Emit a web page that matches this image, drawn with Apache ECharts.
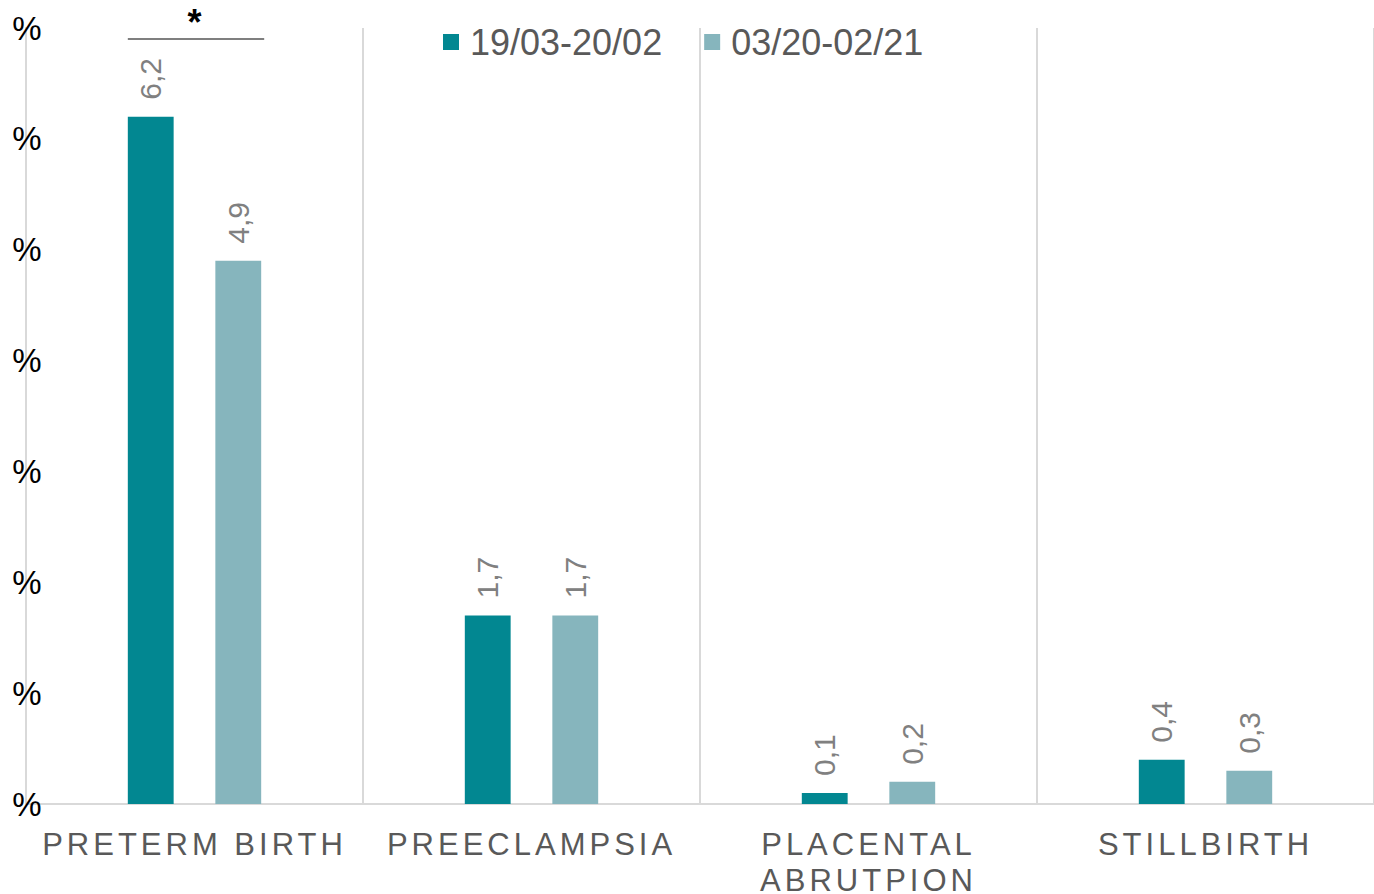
<!DOCTYPE html>
<html>
<head>
<meta charset="utf-8">
<script src="https://cdn.jsdelivr.net/npm/echarts@6/dist/echarts.min.js"></script>
<style>
html,body{margin:0;padding:0;background:#fff;}
#chart{width:1374px;height:894px;}
#chart text[style*="31px"]{letter-spacing:4px;}
</style>
</head>
<body>
<div id="chart"></div>
<script>
const categories = ['PRETERM BIRTH', 'PREECLAMPSIA', 'PLACENTAL\nABRUTPION', 'STILLBIRTH'];
const seriesNames = ['19/03-20/02', '03/20-02/21'];
const period1 = [6.2, 1.7, 0.1, 0.4];
const period2 = [4.9, 1.7, 0.2, 0.3];
const yTicks = [0, 1, 2, 3, 4, 5, 6, 7];
const sigCategory = 0;
const sigLevel = 6.9;
const sigMark = '*';

const BAR_W = 0.136, BAR_GAP = 0.91;
const chart = echarts.init(document.getElementById('chart'), null, {renderer: 'svg'});
const FONT = '"Liberation Sans", Arial, sans-serif';

const labelCfg = {
  show: true, position: 'top', rotate: 90, align: 'left', verticalAlign: 'middle',
  distance: 17, color: '#808080', fontSize: 30, fontFamily: FONT,
  formatter: p => String(p.value).replace('.', ',')
};

chart.setOption({
  animation: false,
  textStyle: {fontFamily: FONT},
  grid: {left: 26, right: 0, top: 28, bottom: 90, containLabel: false, outerBoundsMode: 'none'},
  legend: {
    data: seriesNames, left: 438, top: 18, itemWidth: 16, itemHeight: 16, icon: 'rect',
    itemGap: 42,
    textStyle: {color: '#595959', fontSize: 36, fontFamily: FONT, padding: [0, 0, 0, 6], lineHeight: 38}
  },
  xAxis: {
    type: 'category', data: categories, boundaryGap: true,
    axisLine: {lineStyle: {color: '#D9D9D9', width: 2}},
    axisTick: {show: false},
    splitLine: {show: true, lineStyle: {color: '#D9D9D9', width: 2}},
    axisLabel: {color: '#595959', fontSize: 31, fontFamily: FONT, margin: 22, lineHeight: 36, interval: 0}
  },
  yAxis: {
    type: 'value', min: yTicks[0], max: yTicks[yTicks.length - 1], interval: 1,
    axisLine: {show: true, lineStyle: {color: '#D9D9D9', width: 2}},
    axisTick: {show: false},
    splitLine: {show: false},
    axisLabel: {color: '#000', fontSize: 33, fontFamily: FONT, margin: -1, align: 'center', formatter: () => '%'}
  },
  series: [
    {name: seriesNames[0], type: 'bar', data: period1, barWidth: (BAR_W*100)+'%', barGap: (BAR_GAP*100)+'%',
     itemStyle: {color: '#028791'}, label: labelCfg},
    {name: seriesNames[1], type: 'bar', data: period2, barWidth: (BAR_W*100)+'%', barGap: (BAR_GAP*100)+'%',
     itemStyle: {color: '#86B5BD'}, label: labelCfg}
  ]
});

// significance bracket
const cx = chart.convertToPixel({xAxisIndex: 0}, sigCategory);
const band = chart.convertToPixel({xAxisIndex: 0}, sigCategory + 1) - cx;
const half = band * BAR_W * (2 + BAR_GAP) / 2;
const sy = chart.convertToPixel({yAxisIndex: 0}, sigLevel);
chart.setOption({
  graphic: [
    {type: 'line', shape: {x1: cx - half, y1: sy, x2: cx + half + 3, y2: sy},
     style: {stroke: '#7F7F7F', lineWidth: 2}},
    {type: 'text', x: cx, y: sy - 17,
     style: {text: sigMark, fill: '#000', fontSize: 36, fontWeight: 'bold', fontFamily: FONT, align: 'center', verticalAlign: 'middle'}}
  ]
});
</script>
</body>
</html>
